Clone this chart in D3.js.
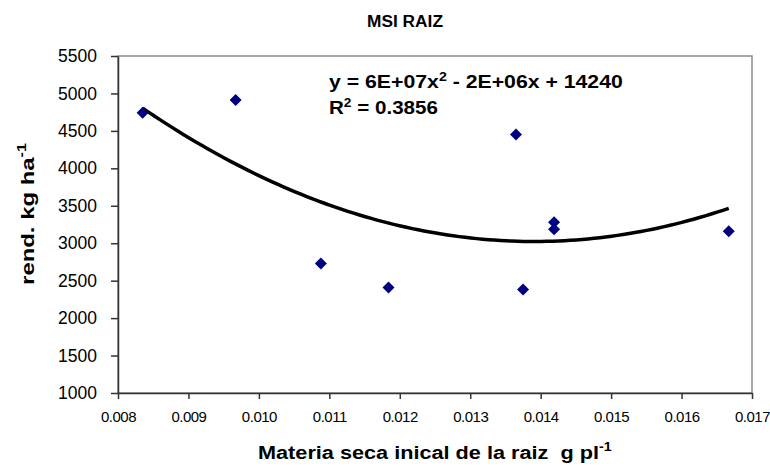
<!DOCTYPE html>
<html>
<head>
<meta charset="utf-8">
<script src="https://cdn.jsdelivr.net/npm/d3@7"></script>
<style>
  body { margin: 0; background: #fff; }
  svg { font-family: "Liberation Sans", Arial, sans-serif; }
</style>
</head>
<body>
<svg id="chart" width="770" height="468"></svg>
<script>
// values
const materiaSeca = [0.00835, 0.00967, 0.01088, 0.01184, 0.01365, 0.01375, 0.01419, 0.01419, 0.01667];
const rendimiento = [4742, 4912, 2729, 2409, 4453, 2382, 3280, 3188, 3161];
const xTicks = [0.008, 0.009, 0.010, 0.011, 0.012, 0.013, 0.014, 0.015, 0.016, 0.017];
const yTicks = [1000, 1500, 2000, 2500, 3000, 3500, 4000, 4500, 5000, 5500];

const svg = d3.select("#chart");
const margin = {left: 118, right: 18, top: 56, bottom: 75};
const w = 770 - margin.left - margin.right;
const h = 468 - margin.top - margin.bottom;

const x = d3.scaleLinear().domain([0.008, 0.017]).range([margin.left, margin.left + w]);
const y = d3.scaleLinear().domain([1000, 5500]).range([margin.top + h, margin.top]);

// the chart text is a bit wider than plain Arial, so stretch it horizontally to a given width
function stretch(sel, width, ax, ay, rot) {
  const bw = sel.node().getBBox().width;
  const k = width / bw;
  sel.attr("transform", "translate(" + ax + "," + ay + ")" + (rot ? " rotate(" + rot + ")" : "") +
           " scale(" + k + ",1)");
}

// plot area border (grey top/right)
svg.append("rect")
   .attr("x", margin.left).attr("y", margin.top)
   .attr("width", w).attr("height", h)
   .attr("fill", "none").attr("stroke", "#8c8c8c").attr("stroke-width", 1.5);

// axes
const xAxis = svg.append("g")
   .attr("transform", "translate(0," + (margin.top + h) + ")")
   .call(d3.axisBottom(x).tickValues(xTicks).tickFormat(d3.format(".3f")).tickSizeInner(6).tickSizeOuter(0).tickPadding(12));
const yAxis = svg.append("g")
   .attr("transform", "translate(" + margin.left + ",0)")
   .call(d3.axisLeft(y).tickValues(yTicks).tickFormat(d3.format("d")).tickSizeInner(7).tickSizeOuter(0).tickPadding(14));

xAxis.selectAll("path, line").attr("stroke", "#333").attr("stroke-width", 1.5);
yAxis.selectAll("path, line").attr("stroke", "#333").attr("stroke-width", 1.5);
xAxis.selectAll("text").attr("font-size", 15).attr("fill", "#000")
     .attr("font-family", "'Liberation Sans', Arial, sans-serif").attr("letter-spacing", -0.5);
yAxis.selectAll("text").attr("font-size", 17.5).attr("fill", "#000")
     .attr("font-family", "'Liberation Sans', Arial, sans-serif");

// quadratic least squares trendline from the points
function quadFit(xs, ys) {
  let n = xs.length, s = [0, 0, 0, 0, 0], t = [0, 0, 0];
  for (let i = 0; i < n; i++) {
    let p = 1;
    for (let k = 0; k < 5; k++) { s[k] += p; if (k < 3) t[k] += p * ys[i]; p *= xs[i]; }
  }
  let M = [[s[0], s[1], s[2], t[0]], [s[1], s[2], s[3], t[1]], [s[2], s[3], s[4], t[2]]];
  for (let i = 0; i < 3; i++) {
    for (let j = i + 1; j < 3; j++) {
      let f = M[j][i] / M[i][i];
      for (let k = i; k < 4; k++) M[j][k] -= f * M[i][k];
    }
  }
  let c = [0, 0, 0];
  for (let i = 2; i >= 0; i--) {
    let v = M[i][3];
    for (let k = i + 1; k < 3; k++) v -= M[i][k] * c[k];
    c[i] = v / M[i][i];
  }
  return c; // c0 + c1 x + c2 x^2
}
const coef = quadFit(materiaSeca, rendimiento);
const [xmin, xmax] = d3.extent(materiaSeca);
const curve = d3.range(0, 101).map(i => {
  const xv = xmin + (xmax - xmin) * i / 100;
  return [xv, coef[0] + coef[1] * xv + coef[2] * xv * xv];
});

svg.append("path")
   .datum(curve)
   .attr("fill", "none").attr("stroke", "#000").attr("stroke-width", 3.5)
   .attr("d", d3.line().x(d => x(d[0])).y(d => y(d[1])));

// markers
svg.append("g").selectAll("path")
   .data(materiaSeca.map((d, i) => [d, rendimiento[i]]))
   .join("path")
   .attr("d", d3.symbol(d3.symbolSquare, 72))
   .attr("transform", d => "translate(" + x(d[0]) + "," + y(d[1]) + ") rotate(45)")
   .attr("fill", "#000080");

// title
const title = svg.append("text").attr("text-anchor", "middle")
   .attr("font-size", 17).attr("font-weight", "bold").text("MSI RAIZ");
stretch(title, 76, 405, 27);

// equation
const eq = svg.append("text").attr("font-size", 18).attr("font-weight", "bold");
eq.append("tspan").text("y = 6E+07x");
eq.append("tspan").attr("font-size", 12).attr("dy", -7).text("2");
eq.append("tspan").attr("dy", 7).text(" - 2E+06x + 14240");
stretch(eq, 294, 329, 88);
const r2 = svg.append("text").attr("font-size", 18).attr("font-weight", "bold");
r2.append("tspan").text("R");
r2.append("tspan").attr("font-size", 12).attr("dy", -7).text("2");
r2.append("tspan").attr("dy", 7).text(" = 0.3856");
stretch(r2, 109, 329, 114);

// axis titles
const xt = svg.append("text").attr("font-size", 19).attr("font-weight", "bold");
xt.append("tspan").text("Materia seca inical de la raiz\u00a0 g pl");
xt.append("tspan").attr("font-size", 12.5).attr("dy", -8).text("-1");
stretch(xt, 354, 258, 459);

const yt = svg.append("text").attr("text-anchor", "middle").attr("font-size", 18.5).attr("font-weight", "bold");
yt.append("tspan").text("rend. kg ha");
yt.append("tspan").attr("font-size", 12.5).attr("dy", -8).text("-1");
stretch(yt, 142, 34, 214, -90);
</script>
</body>
</html>
